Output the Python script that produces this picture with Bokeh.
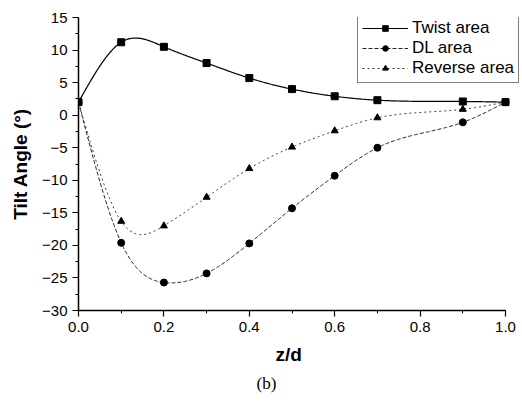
import numpy as np
from bokeh.plotting import figure
from bokeh.models import Range1d, SingleIntervalTicker, Legend, LegendItem, Title, NumeralTickFormatter
from bokeh.embed import file_html
from bokeh.resources import INLINE

z = [0.0, 0.1, 0.2, 0.3, 0.4, 0.5, 0.6, 0.7, 0.9, 1.0]
twist = [2.0, 11.2, 10.5, 8.0, 5.7, 4.0, 2.9, 2.3, 2.1, 2.0]
dl = [2.0, -19.6, -25.7, -24.3, -19.7, -14.3, -9.3, -5.0, -1.1, 2.0]
reverse = [2.0, -16.3, -17.0, -12.6, -8.2, -4.9, -2.4, -0.4, 0.9, 2.0]


def natural_spline(xs, ys, n=400):
    x = np.asarray(xs, float)
    y = np.asarray(ys, float)
    m = len(x)
    h = np.diff(x)
    A = np.zeros((m, m))
    b = np.zeros(m)
    A[0, 0] = 1
    A[-1, -1] = 1
    for i in range(1, m - 1):
        A[i, i - 1] = h[i - 1]
        A[i, i] = 2 * (h[i - 1] + h[i])
        A[i, i + 1] = h[i]
        b[i] = 3 * ((y[i + 1] - y[i]) / h[i] - (y[i] - y[i - 1]) / h[i - 1])
    c = np.linalg.solve(A, b)
    xx = np.linspace(x[0], x[-1], n)
    yy = np.empty_like(xx)
    for k, t in enumerate(xx):
        i = min(np.searchsorted(x, t, side="right") - 1, m - 2)
        dx = t - x[i]
        bi = (y[i + 1] - y[i]) / h[i] - h[i] * (2 * c[i] + c[i + 1]) / 3
        di = (c[i + 1] - c[i]) / (3 * h[i])
        yy[k] = y[i] + bi * dx + c[i] * dx ** 2 + di * dx ** 3
    return xx, yy


FONT = "Liberation Sans"

p = figure(width=520, height=400, output_backend="svg", toolbar_location=None,
           x_range=Range1d(0, 442 / 427), y_range=Range1d(-30, 15),
           min_border_left=78, min_border_right=0, min_border_top=17, min_border_bottom=90)
p.outline_line_color = None
p.grid.visible = False
p.background_fill_color = "white"
p.border_fill_color = "white"

p.xaxis.ticker = SingleIntervalTicker(interval=0.2, num_minor_ticks=2)
p.yaxis.ticker = SingleIntervalTicker(interval=5, num_minor_ticks=2)
p.xaxis.formatter = NumeralTickFormatter(format="0.0")
p.xaxis.bounds = (0, 1)
for ax in (p.xaxis[0], p.yaxis[0]):
    ax.axis_line_color = "black"
    ax.axis_line_width = 1.5
    ax.major_tick_line_color = "black"
    ax.minor_tick_line_color = "black"
    ax.major_tick_line_width = 1.2
    ax.major_tick_out = 6
    ax.major_tick_in = 0
    ax.minor_tick_out = 3
    ax.minor_tick_in = 0
    ax.major_label_text_font = FONT
    ax.major_label_text_font_size = "15px"
    ax.major_label_text_color = "black"
    ax.axis_label_text_font = FONT
    ax.axis_label_text_font_style = "bold"
    ax.axis_label_text_font_size = "19px"
    ax.axis_label_text_color = "black"

p.yaxis.axis_label = "Tilt Angle (°)"
p.yaxis.axis_label_standoff = 8

items = []
specs = [
    ("Twist area", twist, "square", None, 1.2, "#000000", 7),
    ("DL area", dl, "circle", "4 2", 1.0, "#222222", 7),
    ("Reverse area", reverse, "triangle", "2 3", 1.0, "#333333", 7),
]
for name, ys, marker, dash, lw, col, sz in specs:
    xx, yy = natural_spline(z, ys)
    kw = {}
    if dash:
        kw["line_dash"] = dash
    r1 = p.line(xx, yy, line_color=col, line_width=lw, **kw)
    r2 = p.scatter(z, ys, marker=marker, size=sz, fill_color="black", line_color="black")
    items.append(LegendItem(label=name, renderers=[r1, r2]))

legend = Legend(items=items, location=(279, 227))
legend.label_text_font = FONT
legend.label_text_font_size = "17px"
legend.label_text_color = "black"
legend.border_line_color = "black"
legend.border_line_width = 1
legend.background_fill_alpha = 1
legend.glyph_width = 46
legend.glyph_height = 14
legend.label_height = 14
legend.spacing = -3
legend.padding = 4
legend.margin = 0
legend.label_standoff = 4
p.add_layout(legend)

p.add_layout(Title(text="z/d", align="left", offset=197, text_font=FONT,
                   text_font_size="19px", text_font_style="bold", text_color="black",
                   standoff=14), "below")
p.add_layout(Title(text="(b)", align="left", offset=178, text_font="Liberation Serif",
                   text_font_size="17px", text_font_style="normal", text_color="black",
                   standoff=0), "below")

open("out.html", "w").write(file_html(p, INLINE))
